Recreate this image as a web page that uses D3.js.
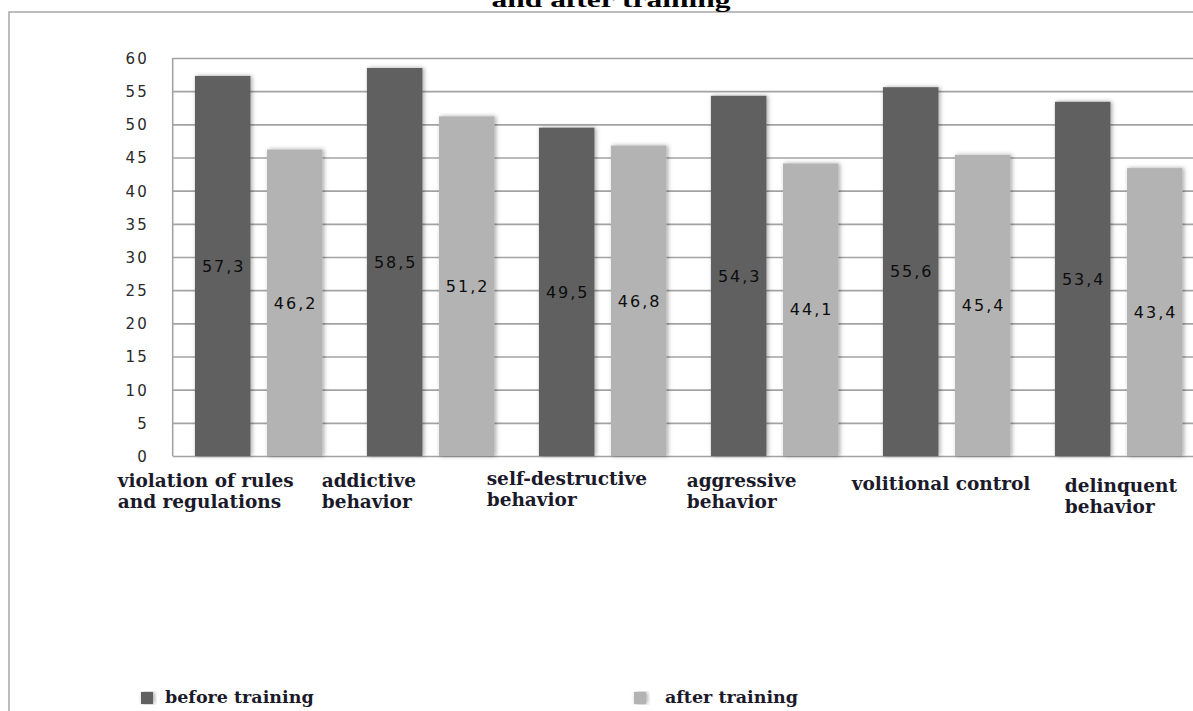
<!DOCTYPE html>
<html>
<head>
<meta charset="utf-8">
<script src="https://cdn.jsdelivr.net/npm/d3@7"></script>
<style>
    body { margin: 0; background: #fff; }
    svg { display: block; }
</style>
</head>
<body>
<svg id="chart"></svg>
<script>
// values
const categories = [
    ["violation of rules", "and regulations"],
    ["addictive", "behavior"],
    ["self-destructive", "behavior"],
    ["aggressive", "behavior"],
    ["volitional control"],
    ["delinquent", "behavior"]
];
const beforeTraining = [57.3, 58.5, 49.5, 54.3, 55.6, 53.4];
const afterTraining = [46.2, 51.2, 46.8, 44.1, 45.4, 43.4];
const seriesNames = ["before training", "after training"];
const yTicks = [0, 5, 10, 15, 20, 25, 30, 35, 40, 45, 50, 55, 60];
const titleText = "and after training";

function GroupedBars(
    id,
    {
        width = 1193,
        height = 711,
        left = 172.7,
        right = 1204.7,
        top = 58,
        bottom = 456,
        colours = ["#616161", "#b3b3b3"],
        grid_colour = "#a3a3a3",
        label_dx = [-55, -23, -30, -2, -9, 32],
        label_y = [487, 487, 485, 487, 490, 492],
        legend_x = [141, 634]
    }={}
){
    return {
        svg: d3.select("#" + id).attr("width", width).attr("height", height),
        rows: categories.map((c, i) => ({i: i, lines: c, values: [beforeTraining[i], afterTraining[i]]})),
        fmt: d3.formatLocale({decimal: ",", thousands: " ", grouping: [3], currency: ["", ""]}).format(".1f"),

        _setScales: function(){
            this.x0 = d3.scaleBand().domain(d3.range(categories.length)).range([left, right]).padding(0);
            this.x1 = d3.scaleBand().domain([0, 1]).range([0, this.x0.bandwidth()])
                .paddingInner(0.229).paddingOuter(0.309);
            this.y = d3.scaleLinear().domain([0, 60]).range([bottom, top]);
        },

        _defs: function(){
            const f = this.svg.append("defs").append("filter")
                .attr("id", "shade").attr("x", "-30%").attr("y", "-5%")
                .attr("width", "160%").attr("height", "110%");
            f.append("feDropShadow")
                .attr("dx", 1.5).attr("dy", 0).attr("stdDeviation", 2.2)
                .attr("flood-color", "#000").attr("flood-opacity", 0.35);
        },

        _drawFrame: function(){
            this.svg.append("path")
                .attr("d", d3.line()([[9, height], [9, 12], [width, 12]]))
                .attr("fill", "none").attr("stroke", "#a8a8a8").attr("stroke-width", 1.5);

            // the title is cropped by the top edge in the source figure
            this.svg.append("text")
                .attr("transform", "translate(611, 7) scale(1.5, 1)")
                .attr("text-anchor", "middle")
                .attr("font-family", "'Liberation Serif', serif")
                .attr("font-weight", "bold").attr("font-size", 21)
                .attr("fill", "#000")
                .text(titleText);
        },

        _drawAxis: function(){
            const yAxis = d3.axisLeft(this.y).tickValues(yTicks).tickSize(0).tickPadding(0);
            this.svg.append("g")
                .attr("transform", `translate(${left}, 0)`)
                .call(yAxis)
                .call(g => g.select(".domain").remove())
                .call(g => g.selectAll(".tick line").clone()
                    .attr("x2", right - left)
                    .attr("stroke", grid_colour).attr("stroke-width", 1.6))
                .call(g => g.selectAll(".tick text")
                    .attr("x", -24).attr("dy", "0.36em")
                    .attr("font-family", "'DejaVu Sans', sans-serif")
                    .attr("font-size", 15).attr("letter-spacing", 2)
                    .attr("fill", "#2a2a2a"));

            this.svg.append("line")
                .attr("x1", left).attr("x2", left)
                .attr("y1", this.y(60)).attr("y2", this.y(0))
                .attr("stroke", grid_colour).attr("stroke-width", 1.6);
        },

        _drawBars: function(){
            const groups = this.svg.append("g").selectAll("g")
                .data(this.rows)
                .join("g")
                .attr("transform", d => `translate(${this.x0(d.i)}, 0)`);

            groups.selectAll("rect")
                .data(d => d.values.map((v, k) => ({k: k, v: v})))
                .join("rect")
                .attr("x", d => this.x1(d.k))
                .attr("width", this.x1.bandwidth())
                .attr("y", d => this.y(d.v))
                .attr("height", d => this.y(0) - this.y(d.v))
                .attr("fill", d => colours[d.k])
                .attr("filter", "url(#shade)");

            groups.selectAll("text.val")
                .data(d => d.values.map((v, k) => ({k: k, v: v})))
                .join("text")
                .attr("class", "val")
                .attr("x", d => this.x1(d.k) + this.x1.bandwidth() / 2 + 1)
                .attr("y", d => (this.y(d.v) + this.y(0)) / 2)
                .attr("dy", "0.36em")
                .attr("text-anchor", "middle")
                .attr("font-family", "'DejaVu Sans', sans-serif")
                .attr("font-size", 16).attr("letter-spacing", 2)
                .attr("fill", "#0d0d0d")
                .text(d => this.fmt(d.v));

            groups.append("text")
                .attr("font-family", "'DejaVu Serif', serif")
                .attr("font-weight", "bold").attr("font-size", 18.5)
                .attr("fill", "#1b1a2a")
                .selectAll("tspan")
                .data(d => d.lines.map(l => ({l: l, i: d.i})))
                .join("tspan")
                .attr("x", d => label_dx[d.i])
                .attr("y", (d, j) => label_y[d.i] + j * 21)
                .text(d => d.l);
        },

        _drawLegend: function(){
            const items = this.svg.append("g").selectAll("g")
                .data(seriesNames)
                .join("g")
                .attr("transform", (d, k) => `translate(${legend_x[k]}, 692)`);
            items.append("rect")
                .attr("width", 12).attr("height", 12)
                .attr("fill", (d, k) => colours[k])
                .attr("filter", "url(#shade)");
            items.append("text")
                .attr("x", (d, k) => k ? 31 : 24).attr("y", 11)
                .attr("font-family", "'DejaVu Serif', serif")
                .attr("font-weight", "bold").attr("font-size", 17.5)
                .attr("fill", "#1b1a2a")
                .text(d => d);
        },

        draw: function(){
            this._setScales();
            this._defs();
            this._drawFrame();
            this._drawAxis();
            this._drawBars();
            this._drawLegend();
        }
    };
}

GroupedBars("chart").draw();
</script>
</body>
</html>
